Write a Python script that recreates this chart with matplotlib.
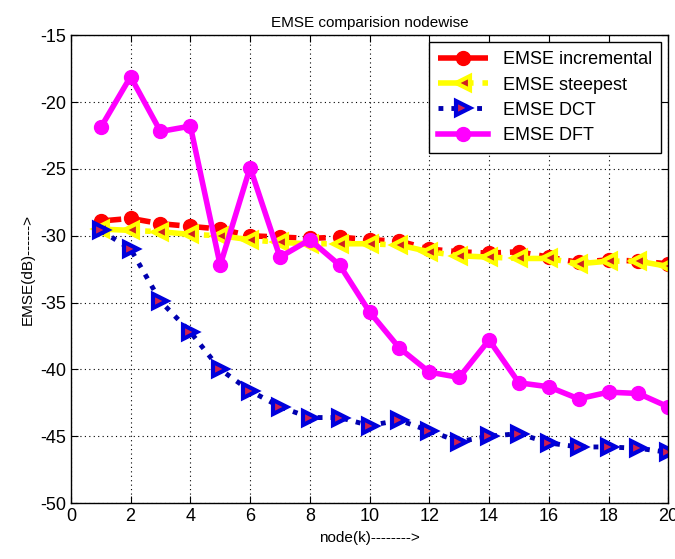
import matplotlib.pyplot as plt
import numpy as np

plt.rcParams["font.family"] = ["Liberation Sans", "DejaVu Sans"]
plt.rcParams["axes.unicode_minus"] = False

nodes = list(range(1, 21))
emse_incremental = [-28.9, -28.7, -29.1, -29.3, -29.5, -30.0, -30.1, -30.2, -30.1, -30.3,
                    -30.4, -31.0, -31.2, -31.3, -31.2, -31.6, -32.0, -31.8, -31.9, -32.1]
emse_steepest = [-29.5, -29.6, -29.7, -29.9, -30.0, -30.3, -30.5, -30.6, -30.6, -30.6,
                 -30.7, -31.2, -31.5, -31.6, -31.7, -31.7, -32.1, -31.9, -31.9, -32.3]
emse_dct = [-29.6, -31.0, -34.9, -37.2, -40.0, -41.6, -42.8, -43.6, -43.6, -44.2,
            -43.8, -44.6, -45.4, -45.0, -44.8, -45.5, -45.8, -45.8, -45.9, -46.2]
emse_dft = [-21.9, -18.1, -22.2, -21.8, -32.2, -24.9, -31.6, -30.3, -32.2, -35.7,
            -38.4, -40.2, -40.6, -37.8, -41.0, -41.3, -42.2, -41.7, -41.8, -42.8]


def main():
    fig = plt.figure(figsize=(6.75, 5.59), dpi=100)
    ax = fig.add_axes([0.105, 0.100, 0.885, 0.837])

    ax.plot(nodes, emse_incremental, "--o", color="red", lw=4, ms=10,
            mfc="red", mec="red", label="EMSE incremental")
    ax.plot(nodes, emse_steepest, "-.<", color="yellow", lw=4, ms=10,
            mfc="#d02020", mec="yellow", mew=3, label="EMSE steepest")
    ax.plot(nodes, emse_dct, ":>", color="#0000b0", lw=3.5, ms=10,
            mfc="#d02050", mec="#0000dd", mew=3, label="EMSE DCT")
    ax.plot(nodes, emse_dft, "-o", color="#ff00ff", lw=4, ms=10,
            mfc="#ff00ff", mec="#ff00ff", label="EMSE DFT")

    ax.set_xlim(0, 20)
    ax.set_ylim(-50, -15)
    ax.set_xticks(np.arange(0, 21, 2))
    ax.set_yticks(np.arange(-50, -14, 5))
    ax.grid(True, linestyle=(0, (1, 3)), color="black", linewidth=0.8)
    ax.tick_params(direction="in", labelsize=13, length=5, top=True, right=True)
    for s in ax.spines.values():
        s.set_linewidth(1.0)

    ax.set_title("EMSE comparision nodewise", fontsize=11)
    ax.set_xlabel("node(k)-------->", fontsize=11)
    ax.set_ylabel("EMSE(dB)------>", fontsize=11)

    leg = ax.legend(loc="upper right", fontsize=13, handlelength=2.8,
                    fancybox=False, framealpha=1, edgecolor="black",
                    borderaxespad=0.4, labelspacing=0.45, borderpad=0.5)
    leg.get_frame().set_linewidth(1.0)

    fig.savefig("out.png")
    plt.close(fig)


if __name__ == "__main__":
    main()
